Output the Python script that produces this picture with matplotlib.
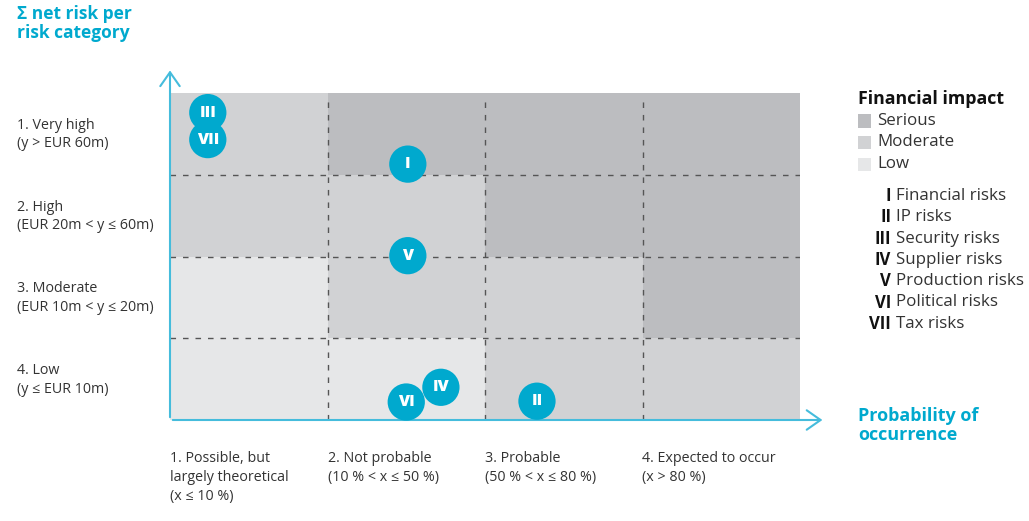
import matplotlib.pyplot as plt
from matplotlib.patches import Rectangle

plt.rcParams['font.family'] = ['Open Sans', 'DejaVu Sans']

# impact level per cell, rows from top (very high) to bottom (low)
impact_grid = [
    ['Moderate', 'Serious', 'Serious', 'Serious'],
    ['Moderate', 'Moderate', 'Serious', 'Serious'],
    ['Low', 'Moderate', 'Moderate', 'Serious'],
    ['Low', 'Low', 'Moderate', 'Moderate'],
]
impact_levels = ['Serious', 'Moderate', 'Low']
impact_colors = {'Serious': '#bcbdc0', 'Moderate': '#d1d2d4', 'Low': '#e6e7e8'}

row_labels = ['1. Very high\n(y > EUR 60m)', '2. High\n(EUR 20m < y ≤ 60m)',
              '3. Moderate\n(EUR 10m < y ≤ 20m)', '4. Low\n(y ≤ EUR 10m)']
col_labels = ['1. Possible, but\nlargely theoretical\n(x ≤ 10 %)', '2. Not probable\n(10 % < x ≤ 50 %)',
              '3. Probable\n(50 % < x ≤ 80 %)', '4. Expected to occur\n(x > 80 %)']

risk_ids = ['I', 'II', 'III', 'IV', 'V', 'VI', 'VII']
risk_names = ['Financial risks', 'IP risks', 'Security risks', 'Supplier risks',
              'Production risks', 'Political risks', 'Tax risks']
# position: probability (0-4), net risk (0-4)
risk_x = [1.51, 2.33, 0.24, 1.72, 1.51, 1.50, 0.24]
risk_y = [3.13, 0.23, 3.76, 0.40, 2.01, 0.22, 3.43]

blue = '#00a9ce'
axis_blue = '#45bcdc'
text_gray = '#333333'

W, H = 1029, 521
fig = plt.figure(figsize=(W / 100, H / 100), dpi=100)
ax = fig.add_axes([170 / W, (H - 420) / H, 630 / W, 327 / H])
ax.set_xlim(0, 4)
ax.set_ylim(0, 4)
ax.axis('off')

# cells
for r, row in enumerate(impact_grid):
    for c, level in enumerate(row):
        ax.add_patch(Rectangle((c, 3 - r), 1, 1, facecolor=impact_colors[level],
                               edgecolor='none', zorder=1))

# dashed grid
for v in [1, 2, 3]:
    ax.plot([v, v], [0, 3.92], color='#555555', lw=1, ls=(0, (4, 5)), zorder=2)
    ax.plot([0, 4], [v, v], color='#555555', lw=1, ls=(0, (4, 5)), zorder=2)

# axes with arrows
ax.annotate('', xy=(0, 4.31), xytext=(0, 0), annotation_clip=False,
            arrowprops=dict(arrowstyle='->,head_length=0.5,head_width=0.35',
                            color=axis_blue, lw=1.5, mutation_scale=20))
ax.annotate('', xy=(4.16, 0), xytext=(0, 0), annotation_clip=False,
            arrowprops=dict(arrowstyle='->,head_length=0.5,head_width=0.35',
                            color=axis_blue, lw=1.5, mutation_scale=20))

# bubbles
ax.scatter(risk_x, risk_y, s=720, color=blue, edgecolor='none', zorder=5, clip_on=False)
for rid, x, y in zip(risk_ids, risk_x, risk_y):
    ax.text(x, y, rid, color='white', fontsize=11.5, fontweight='heavy',
            ha='center', va='center', zorder=6)

# axis titles
fig.text(17 / W, 1 - 5 / H, 'Σ net risk per\nrisk category', color=blue, fontsize=12.5,
         fontweight='bold', va='top', ha='left', linespacing=1.1)
fig.text(858 / W, 1 - 407 / H, 'Probability of\noccurrence', color=blue, fontsize=13,
         fontweight='bold', va='top', ha='left', linespacing=1.05)

# row labels
for r, lab in enumerate(row_labels):
    fig.text(17 / W, 1 - (118 + r * 81.75) / H, lab, color=text_gray, fontsize=10.3,
             va='top', ha='left', linespacing=1.3)

# column labels
for c, lab in enumerate(col_labels):
    fig.text((170 + c * 157.5) / W, 1 - 451 / H, lab, color=text_gray, fontsize=10.3,
             va='top', ha='left', linespacing=1.36)

# legend
fig.text(858 / W, 1 - 90 / H, 'Financial impact', color='#111111', fontsize=12.8,
         fontweight='bold', va='top', ha='left')
for i, level in enumerate(impact_levels):
    yc = 121 + i * 21.5
    fig.patches.append(Rectangle((858 / W, 1 - (yc + 6.5) / H), 13 / W, 13 / H,
                                 facecolor=impact_colors[level], edgecolor='none',
                                 transform=fig.transFigure, figure=fig))
    fig.text(877 / W, 1 - yc / H, level, color=text_gray, fontsize=12.2, va='center', ha='left')

for i, (rid, name) in enumerate(zip(risk_ids, risk_names)):
    yc = 196 + i * 21.3
    fig.text(891 / W, 1 - yc / H, rid, color='#111111', fontsize=12, fontweight='bold',
             va='center', ha='right')
    fig.text(896 / W, 1 - yc / H, name, color=text_gray, fontsize=12.2, va='center', ha='left')

fig.savefig('out.png', dpi=100)
